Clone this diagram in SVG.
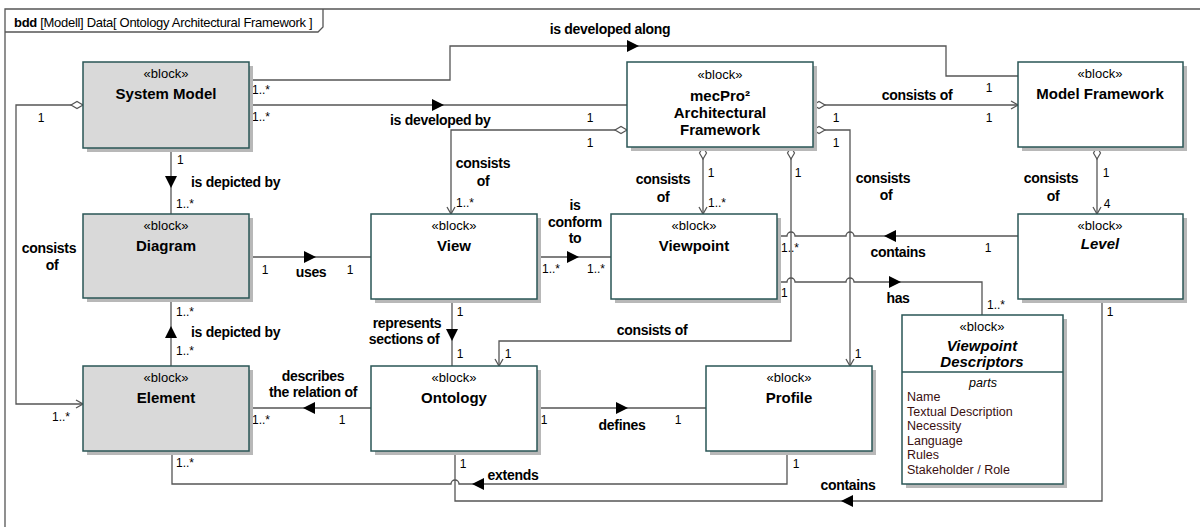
<svg xmlns="http://www.w3.org/2000/svg" width="1200" height="527" viewBox="0 0 1200 527">
<defs>
<style>
text{font-family:"Liberation Sans",Arial,sans-serif;fill:#000}
.st{font-size:13px;text-anchor:middle}
.nm{font-size:15px;font-weight:bold;text-anchor:middle}
.it{font-style:italic}
.lb{font-size:14px;font-weight:bold;letter-spacing:-0.3px}
.c{text-anchor:middle}
.m{font-size:12px}
.pt{font-size:12.5px;fill:#3a1010}
.box{stroke:#2a5656;stroke-width:1.5}
.g{fill:#d9d9d9}
.w{fill:#ffffff}
.sh{fill:#b8b8b8}
.ln{fill:none;stroke:#555555;stroke-width:1.3}
.tri{fill:#000}
</style>
<marker id="oa" viewBox="-9 -6 11 12" refX="0" refY="0" markerWidth="11" markerHeight="12" markerUnits="userSpaceOnUse" orient="auto" overflow="visible">
<path d="M-7,-4 L0,0 L-7,4" fill="none" stroke="#555555" stroke-width="1.3"/>
</marker>
<marker id="dm" viewBox="-1 -5 14 10" refX="0" refY="0" markerWidth="14" markerHeight="10" markerUnits="userSpaceOnUse" orient="auto" overflow="visible">
<path d="M0,0 L6,-3.5 L12,0 L6,3.5 Z" fill="#ffffff" stroke="#555555" stroke-width="1.2"/>
</marker>
</defs>
<rect width="1200" height="527" fill="#ffffff"/>
<g id="frame">
<path d="M5,600 V9 H1300" fill="none" stroke="#555555" stroke-width="1.3"/>
<path d="M5,32 H318 L323,27 V9" fill="none" stroke="#555555" stroke-width="1.3"/>
<text x="14" y="27" font-size="13" letter-spacing="-0.3"><tspan font-weight="bold">bdd</tspan> [Modell] Data[ Ontology Architectural Framework ]</text>
</g>
<g id="connectors">
<!-- is developed along -->
<path class="ln" d="M249,80 H450 V46 H946 V76 H1018"/>
<polygon class="tri" points="627,40 639,46 627,52"/>
<text class="lb c" x="610" y="34">is developed along</text>
<text class="m" x="252" y="94">1..*</text>
<text class="m c" x="989" y="92">1</text>
<!-- is developed by -->
<path class="ln" d="M249,105 H627"/>
<polygon class="tri" points="432,99 444,105 432,111"/>
<text class="lb" x="390" y="125">is developed by</text>
<text class="m" x="252" y="121">1..*</text>
<text class="m c" x="590" y="122">1</text>
<!-- mecPro consists of View -->
<path class="ln" d="M627,130 H451 V214" marker-start="url(#dm)" marker-end="url(#oa)"/>
<text class="lb c" x="483" y="168">consists</text>
<text class="lb c" x="483" y="186">of</text>
<text class="m c" x="590" y="147">1</text>
<text class="m" x="456" y="207">1..*</text>
<!-- mecPro consists of Viewpoint -->
<path class="ln" d="M703,147 V214" marker-start="url(#dm)" marker-end="url(#oa)"/>
<text class="lb c" x="663" y="184">consists</text>
<text class="lb c" x="663" y="202">of</text>
<text class="m c" x="711" y="177">1</text>
<text class="m" x="708" y="207">1..*</text>
<!-- mecPro consists of Ontology -->
<path class="ln" d="M791,147 V341 H499 V366" marker-start="url(#dm)" marker-end="url(#oa)"/>
<text class="lb c" x="652" y="335">consists of</text>
<text class="m c" x="798" y="177">1</text>
<text class="m c" x="508" y="358">1</text>
<!-- mecPro consists of Model Framework -->
<path class="ln" d="M813,105 H1018" marker-start="url(#dm)" marker-end="url(#oa)"/>
<text class="lb c" x="917" y="100">consists of</text>
<text class="m c" x="836" y="122">1</text>
<text class="m c" x="989" y="122">1</text>
<!-- mecPro consists of Profile -->
<path class="ln" d="M813,130 H850 V366" marker-start="url(#dm)" marker-end="url(#oa)"/>
<text class="lb c" x="883" y="183">consists</text>
<text class="lb c" x="886" y="200">of</text>
<text class="m c" x="836" y="147">1</text>
<text class="m c" x="858" y="358">1</text>
<!-- Level contains Viewpoint -->
<path class="ln" d="M1018,236 H854 A4,4 0 0 0 846,236 H795 A4,4 0 0 0 787,236 H777"/>
<polygon class="tri" points="896,230 884,236 896,242"/>
<text class="lb c" x="898" y="257">contains</text>
<text class="m" x="781" y="252">1..*</text>
<text class="m c" x="988" y="252">1</text>
<!-- Viewpoint has Descriptors -->
<path class="ln" d="M777,282 H787 A4,4 0 0 1 795,282 H846 A4,4 0 0 1 854,282 H982 V315"/>
<polygon class="tri" points="889,276 901,282 889,288"/>
<text class="lb c" x="898" y="303">has</text>
<text class="m" x="781" y="297">1</text>
<text class="m" x="987" y="309">1..*</text>
<!-- Level contains Ontology -->
<path class="ln" d="M1102,299 V501 H455 V451"/>
<polygon class="tri" points="853,495 841,501 853,507"/>
<text class="lb c" x="848" y="490">contains</text>
<text class="m c" x="1110" y="316">1</text>
<text class="m c" x="463" y="468">1</text>
<!-- Profile extends Element -->
<path class="ln" d="M787,451 V484 H459 A4,4 0 0 0 451,484 H172 V451"/>
<polygon class="tri" points="484,478 472,484 484,490"/>
<text class="lb c" x="513" y="480">extends</text>
<text class="m c" x="796" y="468">1</text>
<text class="m" x="176" y="467">1..*</text>
<!-- Ontology describes relation of Element -->
<path class="ln" d="M371,408 H249"/>
<polygon class="tri" points="315,402 303,408 315,414"/>
<text class="lb c" x="313" y="381">describes</text>
<text class="lb c" x="313" y="397">the relation of</text>
<text class="m" x="252" y="424">1..*</text>
<text class="m c" x="342" y="424">1</text>
<!-- View represents sections of Ontology -->
<path class="ln" d="M452,299 V366"/>
<polygon class="tri" points="446,329 458,329 452,341"/>
<text class="lb c" x="407" y="328">represents</text>
<text class="lb c" x="404" y="344">sections of</text>
<text class="m c" x="460" y="316">1</text>
<text class="m c" x="460" y="358">1</text>
<!-- Ontology defines Profile -->
<path class="ln" d="M537,408 H706"/>
<polygon class="tri" points="616,402 628,408 616,414"/>
<text class="lb c" x="622" y="430">defines</text>
<text class="m c" x="544" y="424">1</text>
<text class="m c" x="678" y="424">1</text>
<!-- View is conform to Viewpoint -->
<path class="ln" d="M537,257 H611"/>
<polygon class="tri" points="567,251 579,257 567,263"/>
<text class="lb c" x="575" y="210">is</text>
<text class="lb c" x="575" y="227">conform</text>
<text class="lb c" x="575" y="243">to</text>
<text class="m" x="542" y="273">1..*</text>
<text class="m" x="587" y="273">1..*</text>
<!-- Diagram uses View -->
<path class="ln" d="M249,257 H371"/>
<polygon class="tri" points="304,251 316,257 304,263"/>
<text class="lb c" x="311" y="277">uses</text>
<text class="m c" x="265" y="274">1</text>
<text class="m c" x="350" y="274">1</text>
<!-- System Model is depicted by Diagram -->
<path class="ln" d="M171,148 V214"/>
<polygon class="tri" points="165,176 177,176 171,188"/>
<text class="lb" x="191" y="187">is depicted by</text>
<text class="m" x="177" y="164">1</text>
<text class="m" x="176" y="208">1..*</text>
<!-- Element is depicted by Diagram -->
<path class="ln" d="M171,366 V298"/>
<polygon class="tri" points="165,338 177,338 171,326"/>
<text class="lb" x="191" y="337">is depicted by</text>
<text class="m" x="176" y="316">1..*</text>
<text class="m" x="176" y="355">1..*</text>
<!-- System Model consists of Element -->
<path class="ln" d="M83,105 H16 V404 H83" marker-start="url(#dm)" marker-end="url(#oa)"/>
<text class="lb c" x="49" y="253">consists</text>
<text class="lb c" x="52" y="270">of</text>
<text class="m c" x="41" y="122">1</text>
<text class="m" x="52" y="421">1..*</text>
<!-- Model Framework consists of Level -->
<path class="ln" d="M1097,147 V214" marker-start="url(#dm)" marker-end="url(#oa)"/>
<text class="lb c" x="1051" y="183">consists</text>
<text class="lb c" x="1053" y="201">of</text>
<text class="m c" x="1106" y="177">1</text>
<text class="m c" x="1107" y="208">4</text>
</g>
<g id="system-model">
<rect class="sh" x="87" y="66" width="166" height="86"/>
<rect class="box g" x="83" y="62" width="166" height="86"/>
<text class="st" x="166" y="78">«block»</text>
<text class="nm" x="166" y="99">System Model</text>
</g>
<g id="diagram">
<rect class="sh" x="87" y="218" width="166" height="84"/>
<rect class="box g" x="83" y="214" width="166" height="84"/>
<text class="st" x="166" y="230">«block»</text>
<text class="nm" x="166" y="251">Diagram</text>
</g>
<g id="element">
<rect class="sh" x="87" y="370" width="166" height="85"/>
<rect class="box g" x="83" y="366" width="166" height="85"/>
<text class="st" x="166" y="382">«block»</text>
<text class="nm" x="166" y="403">Element</text>
</g>
<g id="mecpro">
<rect class="sh" x="631" y="66" width="186" height="85"/>
<rect class="box w" x="627" y="62" width="186" height="85"/>
<text class="st" x="720" y="79">«block»</text>
<text class="nm" x="720" y="101">mecPro²</text>
<text class="nm" x="720" y="118">Architectural</text>
<text class="nm" x="720" y="135">Framework</text>
</g>
<g id="model-framework">
<rect class="sh" x="1022" y="66" width="165" height="85"/>
<rect class="box w" x="1018" y="62" width="165" height="85"/>
<text class="st" x="1100" y="78">«block»</text>
<text class="nm" x="1100" y="99">Model Framework</text>
</g>
<g id="view">
<rect class="sh" x="375" y="218" width="166" height="85"/>
<rect class="box w" x="371" y="214" width="166" height="85"/>
<text class="st" x="454" y="230">«block»</text>
<text class="nm" x="454" y="251">View</text>
</g>
<g id="viewpoint">
<rect class="sh" x="615" y="218" width="166" height="85"/>
<rect class="box w" x="611" y="214" width="166" height="85"/>
<text class="st" x="694" y="230">«block»</text>
<text class="nm" x="694" y="251">Viewpoint</text>
</g>
<g id="level">
<rect class="sh" x="1022" y="218" width="165" height="85"/>
<rect class="box w" x="1018" y="214" width="165" height="85"/>
<text class="st" x="1100" y="230">«block»</text>
<text class="nm it" x="1100" y="249">Level</text>
</g>
<g id="ontology">
<rect class="sh" x="375" y="370" width="166" height="85"/>
<rect class="box w" x="371" y="366" width="166" height="85"/>
<text class="st" x="454" y="382">«block»</text>
<text class="nm" x="454" y="403">Ontology</text>
</g>
<g id="profile">
<rect class="sh" x="710" y="370" width="166" height="85"/>
<rect class="box w" x="706" y="366" width="166" height="85"/>
<text class="st" x="789" y="382">«block»</text>
<text class="nm" x="789" y="403">Profile</text>
</g>
<g id="viewpoint-descriptors">
<rect class="sh" x="906" y="319" width="161" height="169"/>
<rect class="box w" x="902" y="315" width="161" height="169"/>
<line x1="902" y1="372" x2="1063" y2="372" stroke="#2a5656" stroke-width="1.5"/>
<text class="st" x="982" y="331">«block»</text>
<text class="nm it" x="982" y="351">Viewpoint</text>
<text class="nm it" x="982" y="367">Descriptors</text>
<text class="it c" x="983" y="387" font-size="12.5">parts</text>
<text class="pt" x="907" y="401">Name</text>
<text class="pt" x="907" y="416">Textual Description</text>
<text class="pt" x="907" y="430">Necessity</text>
<text class="pt" x="907" y="445">Language</text>
<text class="pt" x="907" y="459">Rules</text>
<text class="pt" x="907" y="474">Stakeholder / Role</text>
</g>
</svg>
